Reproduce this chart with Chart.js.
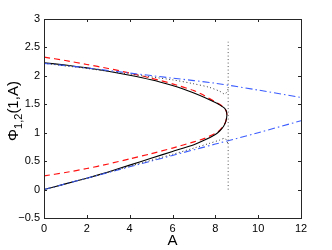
<!DOCTYPE html>
<html>
<head>
<meta charset="utf-8">
<script src="https://cdn.jsdelivr.net/npm/chart.js@4"></script>
<style>
  html, body { margin: 0; padding: 0; background: #fff; }
  #phichart { display: block; }
</style>
</head>
<body>
<canvas id="phichart" width="332" height="250"></canvas>
<script>
// exact solution (black), fold curve traced lower branch -> nose -> upper branch
const exactA   = [0, 1, 2, 3, 4, 5, 6, 7, 7.5, 8, 8.2, 8.38, 8.49, 8.54, 8.5, 8.4, 8.2, 8, 7.5, 7, 6.5, 6, 5, 4, 3, 2, 1, 0];
const exactPhi = [0, 0.1, 0.2, 0.31, 0.43, 0.55, 0.67, 0.79, 0.87, 0.97, 1.03, 1.11, 1.2, 1.31, 1.39, 1.44, 1.49, 1.53, 1.62, 1.7, 1.77, 1.83, 1.93, 2.01, 2.08, 2.14, 2.19, 2.23];

// red dashed approximation
const redA   = [0, 1, 2, 3, 4, 5, 6, 7, 7.5, 8, 8.2, 8.38, 8.49, 8.54, 8.5, 8.4, 8.2, 8, 7.5, 7, 6, 5, 4, 3, 2, 1, 0];
const redPhi = [0.24, 0.3, 0.37, 0.45, 0.54, 0.63, 0.73, 0.84, 0.9, 0.99, 1.04, 1.12, 1.2, 1.31, 1.39, 1.44, 1.5, 1.54, 1.65, 1.74, 1.86, 1.96, 2.05, 2.13, 2.2, 2.27, 2.33];

// blue dash-dot branches
const blueA        = [0, 2, 4, 6, 8, 10, 12];
const blueUpperPhi = [2.22, 2.14, 2.05, 1.96, 1.87, 1.75, 1.62];
const blueLowerPhi = [0, 0.2, 0.4, 0.6, 0.8, 1.0, 1.21];

// black dotted branches + vertical marker
const dotA        = [0, 2, 4, 6, 7, 7.7, 8.2, 8.45, 8.6];
const dotUpperPhi = [2.22, 2.13, 2.03, 1.93, 1.86, 1.8, 1.73, 1.68, 1.77];
const dotLowerPhi = [0, 0.2, 0.41, 0.62, 0.73, 0.81, 0.87, 0.9, 0.8];
const markA   = [8.6, 8.6];
const markPhi = [0, 2.6];

const xTicks = [0, 2, 4, 6, 8, 10, 12];
const yTicks = [-0.5, 0, 0.5, 1, 1.5, 2, 2.5, 3];

function pts(xs, ys) {
    return xs.map((x, i) => ({ x: x, y: ys[i] }));
}

function line(data, color, dash, width, tension) {
    return {
        data: data,
        showLine: true,
        borderColor: color,
        borderWidth: width || 1.1,
        borderDash: dash,
        pointRadius: 0,
        fill: false,
        tension: tension === undefined ? 0.3 : tension
    };
}

// MATLAB-like box with inward ticks and the y title with subscript
const boxPlugin = {
    id: "box",
    afterDraw(chart) {
        const ctx = chart.ctx;
        const a = chart.chartArea;
        const xs = chart.scales.x, ys = chart.scales.y;
        ctx.save();
        ctx.strokeStyle = "#262626";
        ctx.lineWidth = 1;
        ctx.strokeRect(a.left + 0.5, a.top + 0.5, a.right - a.left, a.bottom - a.top);
        ctx.beginPath();
        xTicks.forEach(v => {
            const px = Math.round(xs.getPixelForValue(v)) + 0.5;
            ctx.moveTo(px, a.bottom); ctx.lineTo(px, a.bottom - 3);
            ctx.moveTo(px, a.top); ctx.lineTo(px, a.top + 3);
        });
        yTicks.forEach(v => {
            const py = Math.round(ys.getPixelForValue(v)) + 0.5;
            ctx.moveTo(a.left, py); ctx.lineTo(a.left + 3, py);
            ctx.moveTo(a.right, py); ctx.lineTo(a.right - 3, py);
        });
        ctx.stroke();

        // y title
        ctx.translate(14, 111);
        ctx.rotate(-Math.PI / 2);
        ctx.fillStyle = "#000";
        ctx.textBaseline = "middle";
        ctx.textAlign = "left";
        const big = "15px 'Liberation Sans', Arial, sans-serif";
        const small = "11px 'Liberation Sans', Arial, sans-serif";
        ctx.font = big;
        const w1 = ctx.measureText("\u03A6").width;
        const w3 = ctx.measureText("(1,A)").width;
        ctx.font = small;
        const w2 = ctx.measureText("1,2").width;
        let x0 = -(w1 + w2 + w3) / 2;
        ctx.font = big;
        ctx.fillText("\u03A6", x0, 0);
        ctx.font = small;
        ctx.fillText("1,2", x0 + w1, 5);
        ctx.font = big;
        ctx.fillText("(1,A)", x0 + w1 + w2, 0);
        ctx.restore();
    }
};

const el = document.getElementById("phichart");

new Chart(el, {
    type: "scatter",
    data: {
        datasets: [
            line(pts(markA, markPhi), "#555", [1, 2.5], 1, 0),
            line(pts(dotA, dotUpperPhi), "#333", [1, 2.5], 1),
            line(pts(dotA, dotLowerPhi), "#333", [1, 2.5], 1),
            line(pts(blueA, blueUpperPhi), "#3a5cff", [7, 3, 1.5, 3]),
            line(pts(blueA, blueLowerPhi), "#3a5cff", [7, 3, 1.5, 3]),
            line(pts(exactA, exactPhi), "#000", [], 1.1, 0.2),
            line(pts(redA, redPhi), "#ff1010", [6, 4], 1.2, 0.2)
        ]
    },
    options: {
        responsive: false,
        animation: false,
        layout: { padding: { top: 19, right: 31, left: 0, bottom: 0 } },
        plugins: {
            legend: { display: false },
            tooltip: { enabled: false }
        },
        scales: {
            x: {
                type: "linear",
                min: 0,
                max: 12,
                afterFit(s) { s.height = 32; },
                afterBuildTicks(s) { s.ticks = xTicks.map(v => ({ value: v })); },
                grid: { display: false, drawTicks: false },
                border: { display: false },
                ticks: {
                    color: "#000",
                    padding: 4,
                    font: { family: "'Liberation Sans', Arial, sans-serif", size: 11 }
                },
                title: {
                    display: true,
                    text: "A",
                    color: "#000",
                    padding: { top: 0, bottom: 0 },
                    font: { family: "'Liberation Sans', Arial, sans-serif", size: 15 }
                }
            },
            y: {
                type: "linear",
                min: -0.5,
                max: 3,
                afterFit(s) { s.width = 44; },
                afterBuildTicks(s) { s.ticks = yTicks.map(v => ({ value: v })); },
                grid: { display: false, drawTicks: false },
                border: { display: false },
                ticks: {
                    color: "#000",
                    padding: 4,
                    font: { family: "'Liberation Sans', Arial, sans-serif", size: 11 },
                    callback: v => String(v).replace("-", "\u2212")
                }
            }
        }
    },
    plugins: [boxPlugin]
});
</script>
</body>
</html>
